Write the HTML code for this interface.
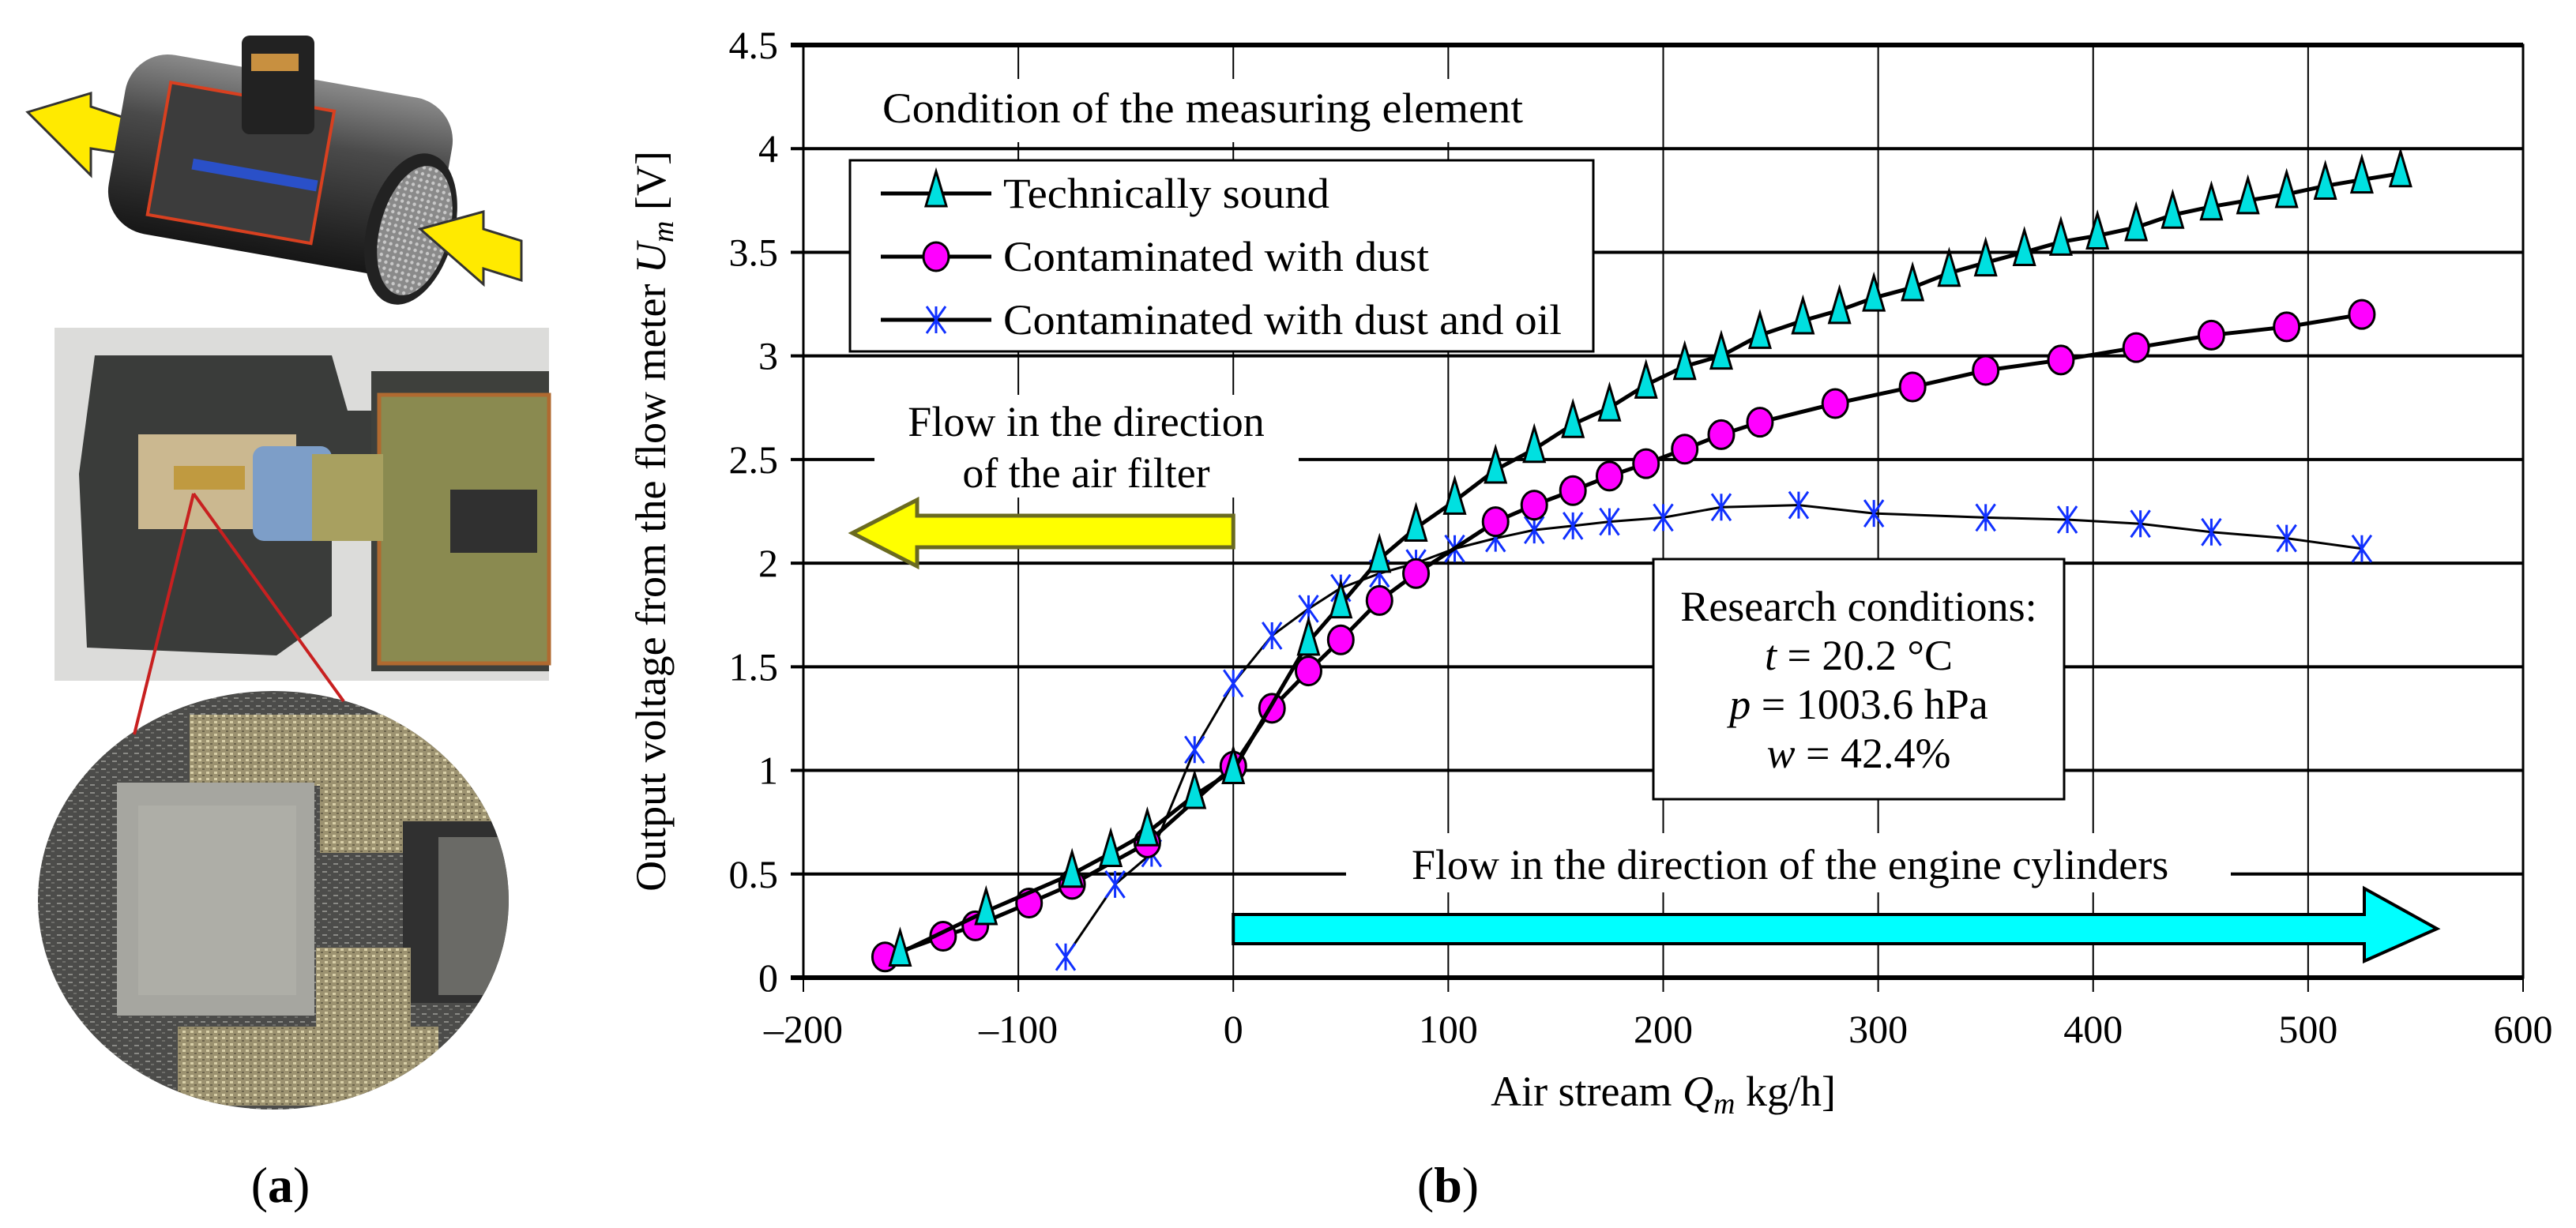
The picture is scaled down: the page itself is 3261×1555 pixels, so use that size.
<!DOCTYPE html>
<html><head><meta charset="utf-8"><style>
html,body{margin:0;padding:0;background:#fff}
svg{display:block}
text{font-family:"Liberation Serif",serif}
</style></head><body>
<svg width="3261" height="1555" viewBox="0 0 3261 1555" xmlns="http://www.w3.org/2000/svg" font-family="Liberation Serif, serif">
<defs>
<linearGradient id="body" x1="0" y1="0" x2="0" y2="1"><stop offset="0" stop-color="#8a8a8a"/><stop offset="0.35" stop-color="#4a4a4a"/><stop offset="1" stop-color="#161616"/></linearGradient>
<pattern id="mesh" width="8" height="8" patternUnits="userSpaceOnUse"><rect width="8" height="8" fill="#8a8a8a"/><circle cx="4" cy="4" r="2.2" fill="#c8c8c8"/></pattern>
<pattern id="speck" width="14" height="10" patternUnits="userSpaceOnUse"><rect width="14" height="10" fill="#4c4c4a"/><rect x="2" y="3" width="6" height="2" fill="#8a8a86"/><rect x="9" y="7" width="4" height="2" fill="#6e6e6a"/></pattern>
<pattern id="gold" width="10" height="8" patternUnits="userSpaceOnUse"><rect width="10" height="8" fill="#9c9270"/><rect x="1" y="1" width="4" height="3" fill="#d8cfa8"/><rect x="6" y="5" width="3" height="2" fill="#6a624a"/></pattern>
<clipPath id="circ"><ellipse cx="346" cy="1140" rx="298" ry="265"/></clipPath>
</defs>
<g>
 <g>
  <polygon points="35,142 115,118 115,135 160,150 160,195 115,188 115,222" fill="#ffea00" stroke="#333" stroke-width="3"/>
  <rect x="145" y="95" width="420" height="230" rx="55" fill="url(#body)" transform="rotate(10 355 210)"/>
  <rect x="200" y="130" width="210" height="170" fill="#3c3c3c" stroke="#d84020" stroke-width="4" transform="rotate(10 355 210)"/>
  <rect x="245" y="220" width="160" height="14" fill="#2a50c8" transform="rotate(10 355 210)"/>
  <rect x="306" y="45" width="92" height="125" rx="10" fill="#222"/>
  <rect x="318" y="68" width="60" height="22" fill="#c89040"/>
  <ellipse cx="520" cy="290" rx="55" ry="98" fill="#222" transform="rotate(15 520 290)"/>
  <ellipse cx="525" cy="292" rx="44" ry="84" fill="url(#mesh)" transform="rotate(15 525 292)"/>
  <polygon points="532,290 612,268 612,290 660,305 660,355 612,340 612,360" fill="#ffea00" stroke="#333" stroke-width="3"/>
 </g>
 <g>
  <rect x="69" y="415" width="626" height="447" fill="#dcdcda"/>
  <polygon points="120,450 420,450 440,520 470,520 470,600 420,600 420,780 350,830 110,820 100,600" fill="#3a3c3a"/>
  <rect x="470" y="470" width="225" height="380" fill="#3e403c"/>
  <rect x="480" y="500" width="215" height="340" fill="#8a8a50" stroke="#b06a30" stroke-width="5"/>
  <rect x="570" y="620" width="110" height="80" fill="#303030"/>
  <rect x="175" y="550" width="200" height="120" fill="#cbb890"/>
  <rect x="220" y="590" width="90" height="30" fill="#c09a40"/>
  <rect x="320" y="565" width="100" height="120" rx="14" fill="#7d9ec8"/>
  <rect x="395" y="575" width="90" height="110" fill="#a8a060"/>
 </g>
 <g>
  <ellipse cx="346" cy="1140" rx="298" ry="265" fill="url(#speck)"/>
  <g clip-path="url(#circ)">
   <rect x="240" y="905" width="380" height="90" fill="url(#gold)"/>
   <rect x="405" y="965" width="220" height="115" fill="url(#gold)"/>
   <rect x="148" y="991" width="250" height="295" fill="#a6a6a0"/>
   <rect x="175" y="1020" width="200" height="240" fill="#b2b2aa" opacity="0.7"/>
   <rect x="510" y="1040" width="130" height="230" fill="#303030"/>
   <rect x="555" y="1060" width="90" height="200" fill="#6a6a66"/>
   <rect x="400" y="1200" width="120" height="120" fill="url(#gold)"/>
   <rect x="225" y="1300" width="330" height="100" fill="url(#gold)"/>
  </g>
 </g>
 <line x1="245" y1="625" x2="170" y2="930" stroke="#c82020" stroke-width="4"/>
 <line x1="245" y1="625" x2="435" y2="888" stroke="#c82020" stroke-width="4"/>
 <text x="355" y="1522" font-size="64" text-anchor="middle" font-family="Liberation Serif, serif">(<tspan font-weight="bold">a</tspan>)</text>
</g>
<g id="chart"></g>
<text x="1833" y="1522" font-size="64" text-anchor="middle" font-family="Liberation Serif, serif">(<tspan font-weight="bold">b</tspan>)</text>
</svg>
<script>
const xTicks=[-200,-100,0,100,200,300,400,500,600];
const xTickLabels=["\u2013200","\u2013100","0","100","200","300","400","500","600"];
const yTicks=[0,0.5,1,1.5,2,2.5,3,3.5,4,4.5];
const yTickLabels=["0","0.5","1","1.5","2","2.5","3","3.5","4","4.5"];
const soundX=[-155,-115,-75,-57,-40,-18,0,35,50,68,85,103,122,140,158,175,192,210,227,245,265,282,298,316,333,350,368,385,402,420,437,455,472,490,508,525,543];
const soundY=[0.12,0.32,0.5,0.6,0.7,0.88,1.0,1.62,1.8,2.02,2.17,2.3,2.45,2.55,2.67,2.75,2.86,2.95,3.0,3.1,3.17,3.22,3.28,3.33,3.4,3.45,3.5,3.55,3.58,3.62,3.68,3.72,3.75,3.78,3.82,3.85,3.88];
const dustX=[-162,-135,-120,-95,-75,-40,0,18,35,50,68,85,122,140,158,175,192,210,227,245,280,316,350,385,420,455,490,525];
const dustY=[0.1,0.2,0.25,0.36,0.45,0.65,1.02,1.3,1.48,1.63,1.82,1.95,2.2,2.28,2.35,2.42,2.48,2.55,2.62,2.68,2.77,2.85,2.93,2.98,3.04,3.1,3.14,3.2];
const oilX=[-78,-55,-38,-18,0,18,35,50,68,85,103,122,140,158,175,200,227,263,298,350,388,422,455,490,525];
const oilY=[0.1,0.45,0.6,1.1,1.42,1.65,1.78,1.88,1.95,2.0,2.07,2.12,2.16,2.18,2.2,2.22,2.27,2.28,2.24,2.22,2.21,2.19,2.15,2.12,2.07];

const NS="http://www.w3.org/2000/svg";
const FONT="Liberation Serif, serif";
const L=1017,R=3194,T=57,B=1238;
const sx=v=>L+(v+200)/800*(R-L);
const sy=v=>B-v/4.5*(B-T);
const g=document.getElementById('chart');
function mk(tag,attrs,parent){const e=document.createElementNS(NS,tag);for(const k in attrs)e.setAttribute(k,attrs[k]);if(tag==='text')e.setAttribute('font-family',FONT);(parent||g).appendChild(e);return e;}

xTicks.forEach((v,i)=>{
 const l=mk('line',{x1:sx(v),x2:sx(v),y1:T,y2:B+18,stroke:'#000','stroke-width':2});
 
 
 const t=mk('text',{x:sx(v),y:B+82,'font-size':50,'text-anchor':'middle'});
 t.textContent=xTickLabels[i];
 
 
});
yTicks.forEach((v,i)=>{
 const l=mk('line',{x1:L-16,x2:R,y1:sy(v),y2:sy(v),stroke:'#000','stroke-width':(v===4.5||v===0)?6:4});
 
 
 const t=mk('text',{x:L-32,y:sy(v)+17,'font-size':50,'text-anchor':'end'});
 t.textContent=yTickLabels[i];
 
 
});
const fr=mk('rect',{x:L,y:T,width:R-L,height:B-T,fill:'none',stroke:'#000','stroke-width':3});



const xt=mk('text',{x:(L+R)/2,y:1400,'font-size':54,'text-anchor':'middle'});
xt.innerHTML='Air stream <tspan font-style="italic">Q<tspan font-size="38" dy="10">m</tspan></tspan><tspan dy="-10"> kg/h]</tspan>';


const yt=mk('text',{x:0,y:0,'font-size':54,'text-anchor':'middle',transform:'translate(842 660) rotate(-90)'});
yt.innerHTML='Output voltage from the flow meter <tspan font-style="italic">U<tspan font-size="38" dy="10">m</tspan></tspan><tspan dy="-10">  [V]</tspan>';



const wb1=mk('rect',{x:1107,y:500,width:537,height:130,fill:'#fff'});


const t1=mk('text',{x:1375,y:552,'font-size':54,'text-anchor':'middle'});t1.textContent='Flow in the direction';


const t2=mk('text',{x:1375,y:617,'font-size':54,'text-anchor':'middle'});t2.textContent='of the air filter';


const ya=mk('polygon',{points:`${sx(0)},653 1161,653 1161,633 1079,675 1161,717 1161,693 ${sx(0)},693`,fill:'#ffff00',stroke:'#6a6a20','stroke-width':5});



const wb2=mk('rect',{x:1704,y:1055,width:1120,height:75,fill:'#fff'});


const t3=mk('text',{x:1787,y:1113,'font-size':54});t3.textContent='Flow in the direction of the engine cylinders';


const ca=mk('polygon',{points:`${sx(0)},1158 2993,1158 2993,1125 3085,1176 2993,1217 2993,1195 ${sx(0)},1195`,fill:'#00ffff',stroke:'#000','stroke-width':4});



function series(xs,ys,name,marker){
 const pts=xs.map((x,i)=>sx(x)+','+sy(ys[i])).join(' ');
 const p=mk('polyline',{points:pts,fill:'none',stroke:'#000','stroke-width':name==='oil'?3:5});
 
 
 xs.forEach((x,i)=>{const m=marker(sx(x),sy(ys[i]));
  
  });
}
const tri=(x,y)=>mk('polygon',{points:`${x},${y-28} ${x-13},${y+16} ${x+13},${y+16}`,fill:'#00e0e0',stroke:'#000','stroke-width':3});
const circ=(x,y)=>mk('ellipse',{cx:x,cy:y,rx:16,ry:18,fill:'#ff00ff',stroke:'#000','stroke-width':3});
const star=(x,y)=>mk('path',{d:`M${x-12},${y-17}L${x+12},${y+17}M${x+12},${y-17}L${x-12},${y+17}M${x},${y-17}L${x},${y+17}`,stroke:'#1030ff','stroke-width':3,fill:'none'});
series(oilX,oilY,'oil',star);
series(dustX,dustY,'dust',circ);
series(soundX,soundY,'sound',tri);

const rc=mk('rect',{x:2093,y:708,width:520,height:304,fill:'#fff',stroke:'#000','stroke-width':3});


[['Research conditions:',786],['<tspan font-style="italic">t</tspan> = 20.2 °C',848],['<tspan font-style="italic">p</tspan> = 1003.6 hPa',910],['<tspan font-style="italic">w</tspan> = 42.4%',972]].forEach(a=>{
 const t=mk('text',{x:2353,y:a[1],'font-size':54,'text-anchor':'middle'});t.innerHTML=a[0];
 
 
});

const lt=mk('rect',{x:1040,y:100,width:950,height:80,fill:'#fff'});


const ct=mk('text',{x:1117,y:155,'font-size':54,textLength:811,lengthAdjust:'spacingAndGlyphs'});ct.textContent='Condition of the measuring element';


const lb=mk('rect',{x:1076,y:203,width:941,height:242,fill:'#fff',stroke:'#000','stroke-width':3});


const legNames=['Technically sound','Contaminated with dust','Contaminated with dust and oil'];
const legWidths=[413,539,707];
const legMk=[tri,circ,star];
legNames.forEach((n,i)=>{
 const y=245+i*80;
 const ln=mk('line',{x1:1115,x2:1255,y1:y,y2:y,stroke:'#000','stroke-width':5});
 
 
 const m=legMk[i](1185,y);
 
 
 const t=mk('text',{x:1270,y:y+18,'font-size':54,textLength:legWidths[i],lengthAdjust:'spacingAndGlyphs'});t.textContent=n;
 
 
});
</script>
</body></html>
